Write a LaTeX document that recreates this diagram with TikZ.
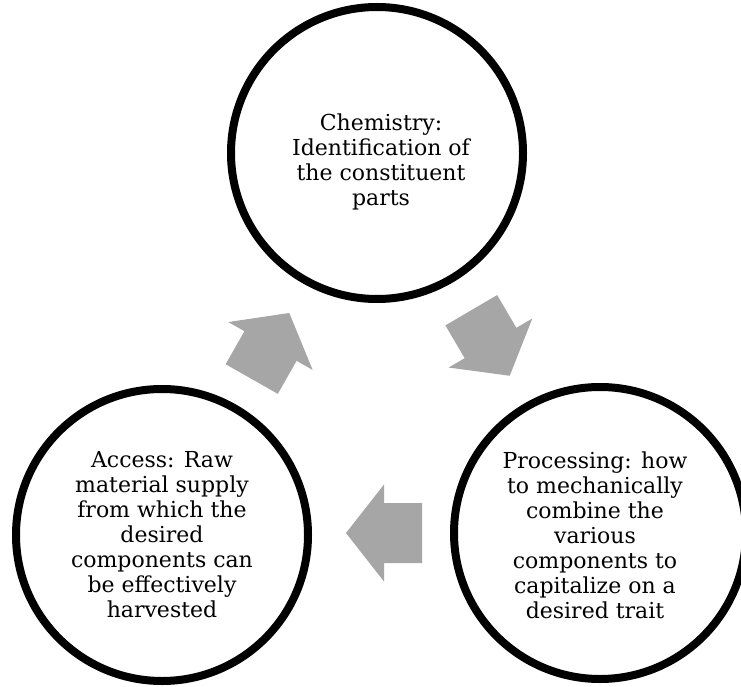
\documentclass[tikz,border=0pt]{standalone}
\usepackage{fontspec}
\setmainfont{DejaVu Serif}
\usetikzlibrary{calc,shadows}
\definecolor{arrowgray}{RGB}{166,166,166}
\begin{document}
\begin{tikzpicture}[x=1pt,y=-1pt,
  ring/.style={circle, draw=black, line width=8pt, fill=white, minimum size=292pt, inner sep=0pt,
    drop shadow={shadow xshift=1.5pt, shadow yshift=-2pt, opacity=0.2, fill=black}},
  txt/.style={align=center, font=\fontsize{22}{25}\selectfont, text=black, inner sep=0pt},
  blockarrow/.pic={\fill[arrowgray] (-38,-30) -- (0,-30) -- (0,-48.5) -- (38,0) -- (0,48.5) -- (0,30) -- (-38,30) -- cycle;}
]
\useasboundingbox (0,0) rectangle (741,687);
\node[ring] (chem) at (377,153) {};
\node[ring] (access) at (162,535) {};
\node[ring] (proc) at (600,533) {};
\node[txt] (chemtxt) at ($(chem)+(4,9)$) {Chemistry:\\Identification of\\the constituent\\parts};
\node[txt] (accesstxt) at ($(access)+(0,0)$) {Access: Raw\\material supply\\from which the\\desired\\components can\\be effectively\\harvested};
\node[txt] (proctxt) at ($(proc)+(-5,2)$) {Processing: how\\to mechanically\\combine the\\various\\components to\\capitalize on a\\desired trait};
\coordinate (a1) at ($($(access)!0.5!(chem)$)+(1,2)$);
\coordinate (a2) at ($($(chem)!0.5!(proc)$)+(2,0)$);
\coordinate (a3) at ($($(proc)!0.5!(access)$)+(3,-1)$);
\pic[rotate=60.4] at (a1) {blockarrow};
\pic[rotate=-59.6] at (a2) {blockarrow};
\pic[rotate=180] at (a3) {blockarrow};
\end{tikzpicture}
\end{document}
